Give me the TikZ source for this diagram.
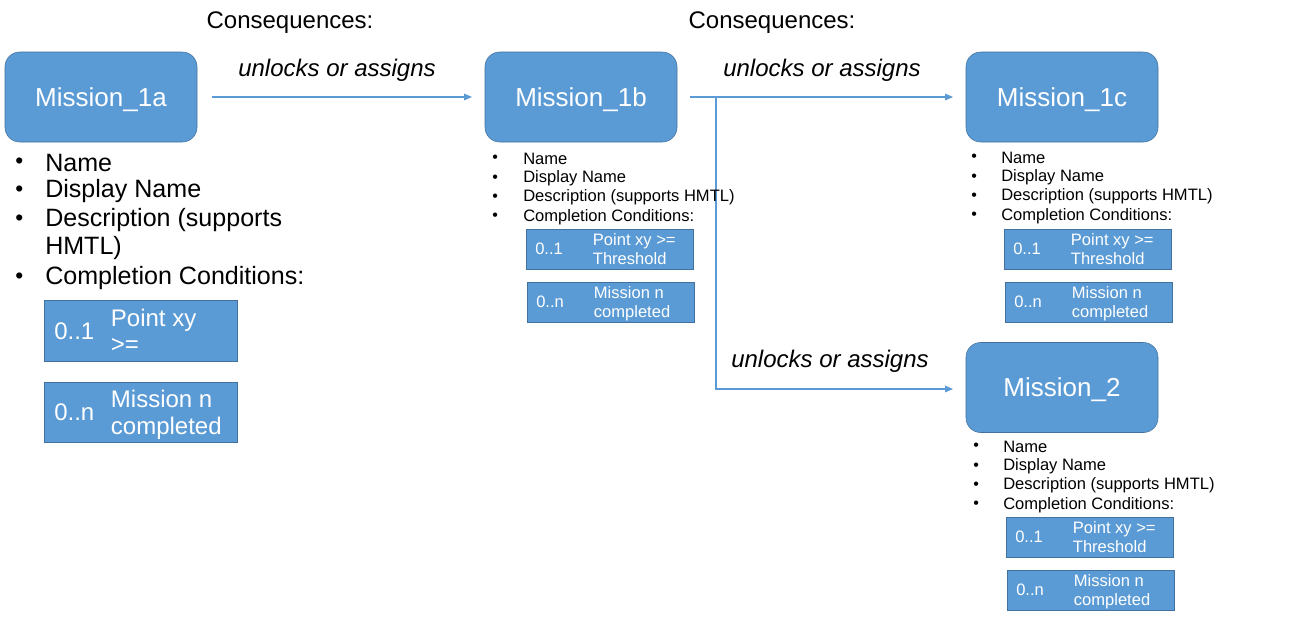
\documentclass[tikz,border=0pt]{standalone}
\usepackage{fontspec}
\setmainfont{Liberation Sans}
\usetikzlibrary{arrows.meta}
\definecolor{mblue}{HTML}{5B9BD5}
\definecolor{mdark}{HTML}{41719C}
\newcommand\fs[1]{\fontsize{#1}{1.2\dimexpr#1\relax}\selectfont}
\newcommand\fss[2]{\fontsize{#1}{#2}\selectfont}
\tikzset{
  mission/.style={draw=mdark, fill=mblue, rounded corners=11pt, minimum width=144pt, minimum height=67.5pt, text=white, font=\fs{19.5pt}, inner sep=0pt, text depth=0pt},
  cond/.style={draw=mdark, fill=mblue, inner sep=0pt, anchor=north west},
  ctext/.style={text=white, anchor=west, inner sep=0pt, align=left},
  item/.style={anchor=west, inner sep=0pt},
  flow/.style={draw=mblue, line width=0.8pt, -{Triangle[length=6pt,width=5pt]}},
  lbl/.style={font=\fs{18pt}\itshape, inner sep=0pt},
  cons/.style={font=\fs{18pt}, inner sep=0pt},
}
% small list: #1 prefix, #2 bullet x, #3 text x, #4 first line y, #5 box x, #6 box y
\newcommand\smalllist[6]{%
  \foreach \t [count=\i from 0] in {Name,Display Name,Description (supports HMTL),Completion Conditions:}{
    \node[item, font=\fs{12.4pt}] (#1t\i) at (#3,#4+19.3*\i) {\t};
    \node[item, font=\fs{12pt}] (#1b\i) at (#2,#4+19.3*\i) {\textbullet};
  }
  \node[cond, minimum width=125pt, minimum height=30pt] (#1c1) at (#5,#6) {};
  \node[ctext, font=\fs{12.4pt}] (#1c1a) at ([xshift=6.75pt]#1c1.west) {0..1};
  \node[ctext, font=\fss{12.4pt}{14.2pt}, text depth=0pt] (#1c1b) at ([xshift=50pt]#1c1.west) {Point xy >=\\Threshold};
  \node[cond, minimum width=125pt, minimum height=30pt] (#1c2) at (#5+1,#6+53) {};
  \node[ctext, font=\fs{12.4pt}] (#1c2a) at ([xshift=6.75pt]#1c2.west) {0..n};
  \node[ctext, font=\fss{12.4pt}{14.2pt}, text depth=0pt] (#1c2b) at ([xshift=50pt]#1c2.west) {Mission n\\completed};
}
\begin{document}
\begin{tikzpicture}[x=0.75pt, y=-0.75pt]
\useasboundingbox (0,0) rectangle (1303,618);
\fill[white] (0,0) rectangle (1303,618);
% missions
\node[mission] (m1a) at (101,97) {Mission\_1a};
\node[mission] (m1b) at (581,97) {Mission\_1b};
\node[mission] (m1c) at (1062,97) {Mission\_1c};
\node[mission] (m2) at (1062,387.5) {Mission\_2};
% headers
\node[cons] (h1) at (290,23) {Consequences:};
\node[cons] (h2) at (772,23) {Consequences:};
% arrows
\coordinate (a1s) at (212,97);
\coordinate (a1e) at (472,97);
\draw[flow] (a1s) -- (a1e);
\node[lbl] (l1) at (337,70) {unlocks or assigns};
\coordinate (a2s) at (690,97);
\coordinate (a2e) at (953,97);
\coordinate (br) at (716,97);
\coordinate (br2) at (716,389);
\coordinate (a3e) at (953,389);
\draw[flow] (a2s) -- (a2e);
\draw[flow] (br) -- (br2) -- (a3e);
\node[lbl] (l2) at (822,70) {unlocks or assigns};
\node[lbl] (l3) at (830,361) {unlocks or assigns};
% big list for Mission_1a
\foreach \t/\yy [count=\i] in {Name/163,Display Name/191,Description (supports/220,HMTL)/248,Completion Conditions:/278}{
  \node[item, font=\fs{18.8pt}] (bt\i) at (45,\yy) {\t};
}
\foreach \yy [count=\i] in {163,191,220,278}{
  \node[item, font=\fs{17pt}] (bb\i) at (15,\yy) {\textbullet};
}
\node[cond, minimum width=144.75pt, minimum height=45.75pt] (bc1) at (44,300) {};
\node[ctext, font=\fs{18pt}] (bc1a) at ([xshift=7.5pt]bc1.west) {0..1};
\node[ctext, font=\fss{18pt}{20.2pt}, text depth=0pt] (bc1b) at ([xshift=50pt]bc1.west) {Point xy\\>=};
\node[cond, minimum width=144.75pt, minimum height=45pt] (bc2) at (44,382) {};
\node[ctext, font=\fs{18pt}] (bc2a) at ([xshift=7.5pt]bc2.west) {0..n};
\node[ctext, font=\fss{18pt}{20.2pt}, text depth=0pt] (bc2b) at ([xshift=50pt]bc2.west) {Mission n\\completed};
% small lists
\smalllist{sb}{492}{523}{159}{526}{229}
\smalllist{sc}{971}{1001}{158}{1004}{229}
\smalllist{sd}{973}{1003}{447}{1006}{517}
\end{tikzpicture}
\end{document}
